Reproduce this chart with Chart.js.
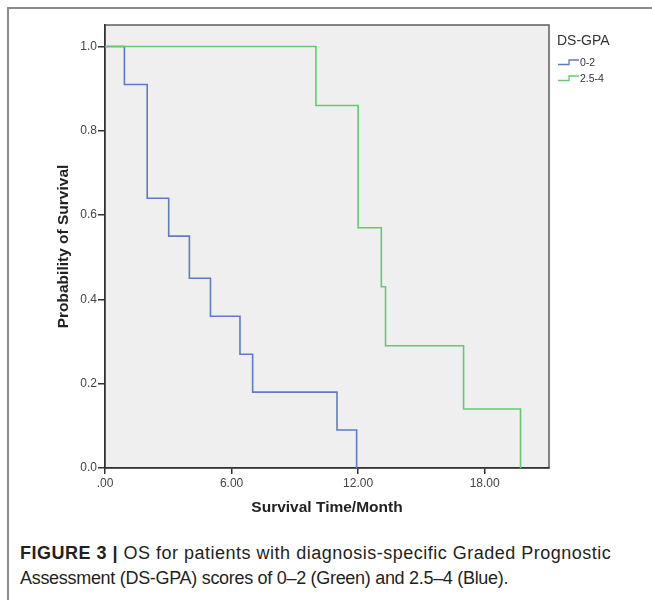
<!DOCTYPE html>
<html>
<head>
<meta charset="utf-8">
<title>OS by DS-GPA</title>
<script src="https://cdn.jsdelivr.net/npm/chart.js@4.4.1/dist/chart.umd.min.js"></script>
<style>
  body { margin: 0; background: #fff; }
  #page { position: relative; width: 652px; height: 600px; overflow: hidden; }
  #frame { position: absolute; left: 7px; top: 7px; right: -4px; bottom: -4px; border-left: 2px solid #8c8c8c; border-top: 2px solid #8c8c8c; }
  #chart { position: absolute; left: 0; top: 0; }
  #caption { position: absolute; left: 20px; top: 541px; font-family: 'Liberation Sans', Arial, sans-serif; font-size: 18px; line-height: 25px; color: #231f20; white-space: nowrap; }
  #caption b { font-weight: bold; }
  #caption .l1 { letter-spacing: 0.5px; }
  #caption .l2 { letter-spacing: -0.3px; }
</style>
</head>
<body>
<div id="page">
  <div id="frame"></div>
  <canvas id="chart" width="652" height="530"></canvas>
  <div id="caption">
    <span class="l1"><b>FIGURE 3 |</b> OS for patients with diagnosis-specific Graded Prognostic</span><br>
    <span class="l2">Assessment (DS-GPA) scores of 0–2 (Green) and 2.5–4 (Blue).</span>
  </div>
</div>
<script>
// Kaplan-Meier steps
const groupLabels = ['0-2', '2.5-4'];
const lowTimes = [0, 0.92, 2.0, 3.02, 4.0, 5.0, 6.4, 7.0, 11.0, 11.93];
const lowSurvival = [1.0, 0.91, 0.64, 0.55, 0.45, 0.36, 0.27, 0.18, 0.09, 0.0];
const highTimes = [0, 10.0, 12.0, 13.1, 13.3, 17.0, 19.7];
const highSurvival = [1.0, 0.86, 0.57, 0.43, 0.29, 0.14, 0.0];
const xTicks = [0, 6, 12, 18];
const yTicks = [0, 0.2, 0.4, 0.6, 0.8, 1.0];

const FONT = "'Liberation Sans', Arial, sans-serif";

function toPoints(times, values) {
  return times.map((t, i) => ({ x: t, y: values[i] }));
}

// grey plot background + box outline
const plotBox = {
  id: 'plotBox',
  beforeDraw(chart) {
    const a = chart.chartArea;
    const ctx = chart.ctx;
    ctx.save();
    ctx.fillStyle = '#efefef';
    ctx.fillRect(a.left, a.top, a.right - a.left, a.bottom - a.top);
    ctx.strokeStyle = '#5c5c5c';
    ctx.lineWidth = 1.5;
    ctx.strokeRect(a.left, a.top, a.right - a.left, a.bottom - a.top);
    ctx.restore();
  }
};

// SPSS-style legend with step icons
const stepLegend = {
  id: 'stepLegend',
  afterDraw(chart) {
    const ctx = chart.ctx;
    const left = chart.chartArea.right + 8;
    ctx.save();
    ctx.fillStyle = '#333';
    ctx.textBaseline = 'middle';
    ctx.font = '14px ' + FONT;
    ctx.fillText('DS-GPA', left, 41);
    ctx.font = '10.5px ' + FONT;
    chart.data.datasets.forEach((ds, i) => {
      const y = 63 + i * 16;
      ctx.strokeStyle = ds.borderColor;
      ctx.lineWidth = 1.3;
      ctx.beginPath();
      ctx.moveTo(left + 1, y + 1.5);
      ctx.lineTo(left + 12, y + 1.5);
      ctx.lineTo(left + 12, y - 3);
      ctx.lineTo(left + 22, y - 3);
      ctx.stroke();
      ctx.fillText(ds.label, left + 23, y + 0.5);
    });
    ctx.restore();
  }
};

new Chart(document.getElementById('chart'), {
  type: 'line',
  data: {
    datasets: [
      {
        label: groupLabels[0],
        data: toPoints(lowTimes, lowSurvival),
        borderColor: '#6079c8',
        borderWidth: 1.6,
        stepped: 'before',
        pointRadius: 0,
        fill: false,
        order: 2
      },
      {
        label: groupLabels[1],
        data: toPoints(highTimes, highSurvival),
        borderColor: '#63c973',
        borderWidth: 1.6,
        stepped: 'before',
        pointRadius: 0,
        fill: false,
        order: 1
      }
    ]
  },
  options: {
    responsive: false,
    animation: false,
    layout: { padding: { left: 0, top: 25, right: 103, bottom: 0 } },
    plugins: {
      legend: { display: false },
      tooltip: { enabled: false }
    },
    scales: {
      x: {
        type: 'linear',
        min: 0,
        max: 21.05,
        afterFit: s => { s.height = 62; },
        afterBuildTicks: s => { s.ticks = xTicks.map(v => ({ value: v })); },
        grid: { drawOnChartArea: false, drawTicks: true, tickLength: 6, color: '#333', lineWidth: 1.5 },
        border: { color: '#333', width: 1.5 },
        ticks: {
          padding: 2,
          color: '#444',
          font: { family: FONT, size: 12 },
          callback: v => v === 0 ? '.00' : v.toFixed(2)
        },
        title: {
          display: true,
          text: 'Survival Time/Month',
          color: '#222',
          font: { family: FONT, size: 15.5, weight: 'bold' },
          padding: { top: 0, bottom: 12.5 }
        }
      },
      y: {
        type: 'linear',
        min: 0,
        max: 1.051,
        afterFit: s => { s.width = 105; },
        afterBuildTicks: s => { s.ticks = yTicks.map(v => ({ value: v })); },
        grid: { drawOnChartArea: false, drawTicks: true, tickLength: 7, color: '#333', lineWidth: 1.5 },
        border: { color: '#333', width: 1.5 },
        ticks: {
          padding: 1,
          color: '#444',
          font: { family: FONT, size: 12 },
          callback: v => v.toFixed(1)
        },
        title: {
          display: true,
          text: 'Probability of Survival',
          color: '#222',
          font: { family: FONT, size: 15.5, weight: 'bold' },
          padding: { top: 54, bottom: 0 }
        }
      }
    }
  },
  plugins: [plotBox, stepLegend]
});
</script>
</body>
</html>
